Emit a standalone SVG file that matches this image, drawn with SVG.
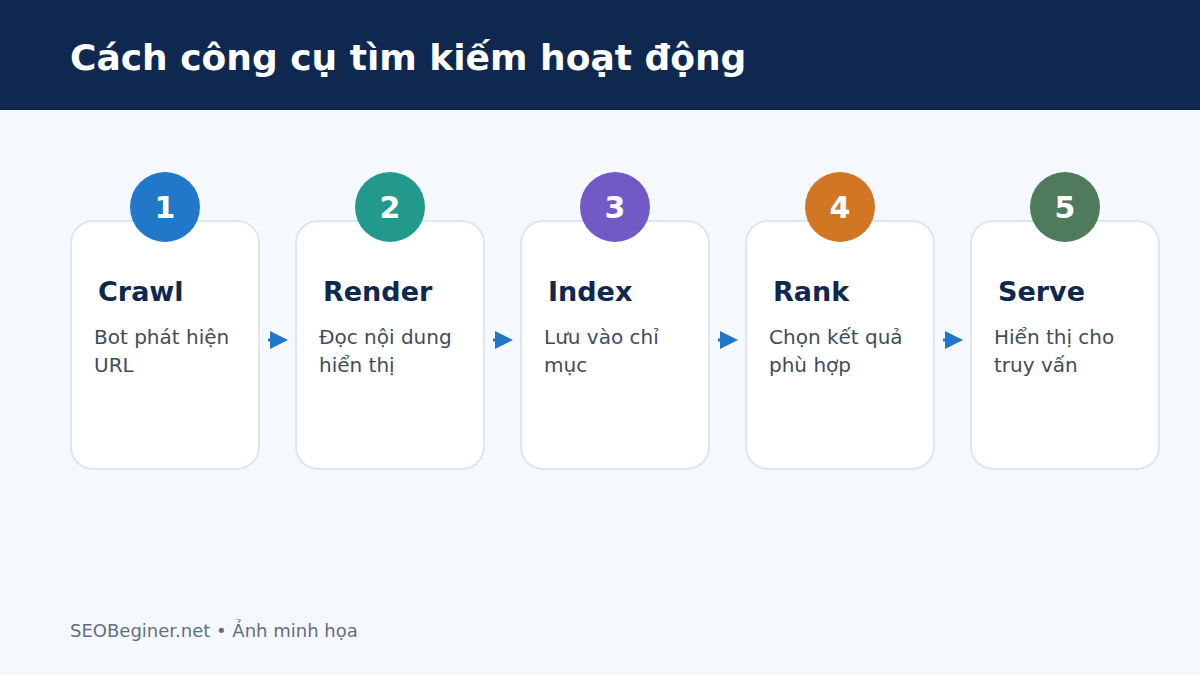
<svg xmlns="http://www.w3.org/2000/svg" width="1200" height="675" viewBox="0 0 1200 675">
<style>
.card{fill:#ffffff;stroke:#dde7f2;stroke-width:2}
.num{font-family:"DejaVu Sans",sans-serif;font-weight:bold;font-size:30px;fill:#ffffff;text-anchor:middle}
.ttl{font-family:"DejaVu Sans",sans-serif;font-weight:bold;font-size:27px;fill:#0f2850}
.desc{font-family:"DejaVu Sans",sans-serif;font-size:20px;fill:#3e4c60}
.arr{fill:#2176c8}
</style>
<rect width="1200" height="675" fill="#f5f9fd"/>
<rect width="1200" height="110" fill="#0f2850"/>
<text x="70" y="70" font-family="DejaVu Sans, sans-serif" font-weight="bold" font-size="36" fill="#ffffff">Cách công cụ tìm kiếm hoạt động</text>
<g id="connectors">
<path class="arr" d="M268 338.5H270V331L288 340L270 349V341.5H268Z"/>
<path class="arr" d="M493 338.5H495V331L513 340L495 349V341.5H493Z"/>
<path class="arr" d="M718 338.5H720V331L738 340L720 349V341.5H718Z"/>
<path class="arr" d="M943 338.5H945V331L963 340L945 349V341.5H943Z"/>
</g>
<g id="node1">
<rect class="card" x="71" y="221" width="188" height="248" rx="22"/>
<circle cx="165" cy="207" r="35" fill="#2178c8"/>
<text class="num" x="165" y="218">1</text>
<text class="ttl" x="98" y="301">Crawl</text>
<text class="desc" x="94" y="344">Bot phát hiện</text>
<text class="desc" x="94" y="372">URL</text>
</g>
<g id="node2">
<rect class="card" x="296" y="221" width="188" height="248" rx="22"/>
<circle cx="390" cy="207" r="35" fill="#22998a"/>
<text class="num" x="390" y="218">2</text>
<text class="ttl" x="323" y="301">Render</text>
<text class="desc" x="319" y="344">Đọc nội dung</text>
<text class="desc" x="319" y="372">hiển thị</text>
</g>
<g id="node3">
<rect class="card" x="521" y="221" width="188" height="248" rx="22"/>
<circle cx="615" cy="207" r="35" fill="#7159c6"/>
<text class="num" x="615" y="218">3</text>
<text class="ttl" x="548" y="301">Index</text>
<text class="desc" x="544" y="344">Lưu vào chỉ</text>
<text class="desc" x="544" y="372">mục</text>
</g>
<g id="node4">
<rect class="card" x="746" y="221" width="188" height="248" rx="22"/>
<circle cx="840" cy="207" r="35" fill="#d17623"/>
<text class="num" x="840" y="218">4</text>
<text class="ttl" x="773" y="301">Rank</text>
<text class="desc" x="769" y="344">Chọn kết quả</text>
<text class="desc" x="769" y="372">phù hợp</text>
</g>
<g id="node5">
<rect class="card" x="971" y="221" width="188" height="248" rx="22"/>
<circle cx="1065" cy="207" r="35" fill="#4f7a5b"/>
<text class="num" x="1065" y="218">5</text>
<text class="ttl" x="998" y="301">Serve</text>
<text class="desc" x="994" y="344">Hiển thị cho</text>
<text class="desc" x="994" y="372">truy vấn</text>
</g>
<text x="70" y="637" font-family="DejaVu Sans, sans-serif" font-size="18" fill="#5f6f84">SEOBeginer.net • Ảnh minh họa</text>
</svg>
